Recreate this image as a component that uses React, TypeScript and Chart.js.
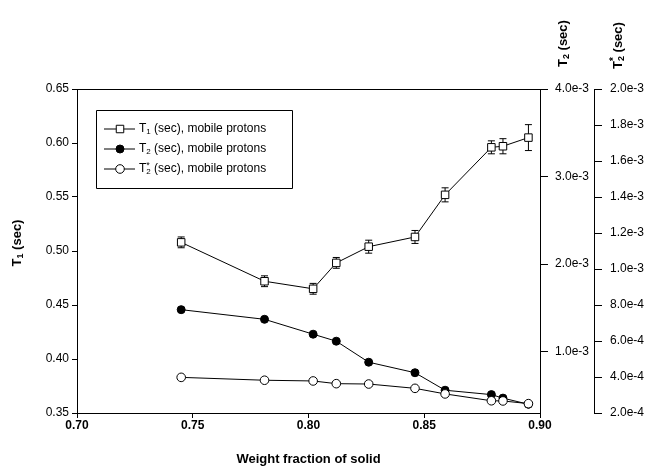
import React, { useEffect, useRef } from 'react';
import { Chart, registerables } from 'chart.js';

Chart.register(...registerables);

// ---- data ----
const weightFraction = [0.745, 0.781, 0.802, 0.812, 0.826, 0.846, 0.859, 0.879, 0.884, 0.895];
const t1 = [0.508, 0.472, 0.465, 0.489, 0.504, 0.513, 0.552, 0.596, 0.597, 0.605];
const t1Err = [0.005, 0.005, 0.005, 0.005, 0.006, 0.006, 0.0065, 0.006, 0.007, 0.012];
const t2 = [1.48e-3, 1.37e-3, 1.2e-3, 1.12e-3, 0.88e-3, 0.76e-3, 0.56e-3, 0.51e-3, 0.47e-3, 0.4e-3];
const t2Star = [3.98e-4, 3.82e-4, 3.78e-4, 3.63e-4, 3.61e-4, 3.37e-4, 3.06e-4, 2.68e-4, 2.67e-4, 2.52e-4];

const xTicks = [0.7, 0.75, 0.8, 0.85, 0.9];
const t1Ticks = [0.35, 0.4, 0.45, 0.5, 0.55, 0.6, 0.65];
const t2Ticks = [1e-3, 2e-3, 3e-3, 4e-3];
const t2StarTicks = [2e-4, 4e-4, 6e-4, 8e-4, 1e-3, 1.2e-3, 1.4e-3, 1.6e-3, 1.8e-3, 2e-3];

const legendLabels = [' (sec), mobile protons', ' (sec), mobile protons', ' (sec), mobile protons'];

const FONT = '"Liberation Sans", Arial, Helvetica, sans-serif';

type Seg = { t: string; size: number; dy?: number; bold?: boolean; overlay?: boolean };

function segFont(s: Seg) {
  return `${s.bold ? 'bold ' : ''}${s.size}px ${FONT}`;
}

function measureRich(ctx: CanvasRenderingContext2D, segs: Seg[]) {
  let w = 0;
  let prevW = 0;
  for (const s of segs) {
    ctx.font = segFont(s);
    const sw = ctx.measureText(s.t).width;
    if (s.overlay) {
      w += Math.max(0, sw - prevW);
      prevW = Math.max(prevW, sw);
    } else {
      w += sw;
      prevW = sw;
    }
  }
  return w;
}

function drawRich(ctx: CanvasRenderingContext2D, segs: Seg[], x: number, y: number) {
  let cx = x;
  let lastStart = x;
  let prevW = 0;
  for (const s of segs) {
    ctx.font = segFont(s);
    const sw = ctx.measureText(s.t).width;
    if (s.overlay) {
      ctx.fillText(s.t, lastStart, y + (s.dy || 0));
      cx = lastStart + Math.max(prevW, sw);
      prevW = Math.max(prevW, sw);
    } else {
      ctx.fillText(s.t, cx, y + (s.dy || 0));
      lastStart = cx;
      cx += sw;
      prevW = sw;
    }
  }
}

function drawMarker(ctx: CanvasRenderingContext2D, kind: string, x: number, y: number) {
  ctx.save();
  ctx.lineWidth = 1;
  ctx.strokeStyle = '#000';
  if (kind === 'square') {
    ctx.fillStyle = '#fff';
    ctx.beginPath();
    ctx.rect(x - 3.75, y - 3.75, 7.5, 7.5);
    ctx.fill();
    ctx.stroke();
  } else if (kind === 'filled') {
    ctx.fillStyle = '#000';
    ctx.beginPath();
    ctx.arc(x, y, 4, 0, Math.PI * 2);
    ctx.fill();
    ctx.stroke();
  } else {
    ctx.fillStyle = '#fff';
    ctx.beginPath();
    ctx.arc(x, y, 4.3, 0, Math.PI * 2);
    ctx.fill();
    ctx.stroke();
  }
  ctx.restore();
}

const decorPlugin = {
  id: 'decor',
  beforeDatasetsDraw(chart: any) {
    const ctx: CanvasRenderingContext2D = chart.ctx;
    const xs = chart.scales.x;
    const ys = chart.scales.y;
    ctx.save();
    ctx.strokeStyle = '#000';
    ctx.lineWidth = 1;
    weightFraction.forEach((wf, i) => {
      const px = xs.getPixelForValue(wf);
      const top = ys.getPixelForValue(t1[i] + t1Err[i]);
      const bot = ys.getPixelForValue(t1[i] - t1Err[i]);
      ctx.beginPath();
      ctx.moveTo(px, top);
      ctx.lineTo(px, bot);
      ctx.moveTo(px - 3.5, top);
      ctx.lineTo(px + 3.5, top);
      ctx.moveTo(px - 3.5, bot);
      ctx.lineTo(px + 3.5, bot);
      ctx.stroke();
    });
    ctx.restore();
  },
  afterDraw(chart: any) {
    const ctx: CanvasRenderingContext2D = chart.ctx;
    const area = chart.chartArea;
    ctx.save();
    ctx.strokeStyle = '#000';
    ctx.lineWidth = 1;
    // top frame line
    ctx.beginPath();
    ctx.moveTo(area.left, area.top + 0.5);
    ctx.lineTo(area.right, area.top + 0.5);
    ctx.stroke();

    ctx.fillStyle = '#000';
    ctx.textBaseline = 'middle';
    ctx.textAlign = 'left';

    // x title
    ctx.font = `bold 13px ${FONT}`;
    ctx.textAlign = 'center';
    ctx.fillText('Weight fraction of solid', (area.left + area.right) / 2, 459);
    ctx.textAlign = 'left';

    // left title T1 (sec)
    const t1Title: Seg[] = [
      { t: 'T', size: 13, bold: true },
      { t: '1', size: 9, bold: true, dy: 4 },
      { t: ' (sec)', size: 13, bold: true },
    ];
    const w1 = measureRich(ctx, t1Title);
    ctx.save();
    ctx.translate(17, (area.top + area.bottom) / 2 - 8 + w1 / 2);
    ctx.rotate(-Math.PI / 2);
    drawRich(ctx, t1Title, 0, 0);
    ctx.restore();

    // right title T2 (sec)
    const t2Title: Seg[] = [
      { t: 'T', size: 13, bold: true },
      { t: '2', size: 9, bold: true, dy: 4 },
      { t: ' (sec)', size: 13, bold: true },
    ];
    ctx.save();
    ctx.translate(563, 67);
    ctx.rotate(-Math.PI / 2);
    drawRich(ctx, t2Title, 0, 0);
    ctx.restore();

    // far right title T2* (sec)
    const t2sTitle: Seg[] = [
      { t: 'T', size: 13, bold: true },
      { t: '2', size: 9, bold: true, dy: 4 },
      { t: '*', size: 10, bold: true, dy: -4, overlay: true },
      { t: ' (sec)', size: 13, bold: true },
    ];
    ctx.save();
    ctx.translate(618, 69);
    ctx.rotate(-Math.PI / 2);
    drawRich(ctx, t2sTitle, 0, 0);
    ctx.restore();

    // legend
    const bx = 96, by = 110, bw = 196, bh = 78;
    ctx.beginPath();
    ctx.rect(bx + 0.5, by + 0.5, bw, bh);
    ctx.stroke();
    const kinds = ['square', 'filled', 'open'];
    const subs = ['1', '2', '2'];
    kinds.forEach((k, i) => {
      const ry = by + 19 + i * 20;
      ctx.beginPath();
      ctx.moveTo(104, ry);
      ctx.lineTo(135, ry);
      ctx.stroke();
      drawMarker(ctx, k, 120, ry);
      const segs: Seg[] = [
        { t: 'T', size: 12 },
        { t: subs[i], size: 8, dy: 3 },
      ];
      if (i === 2) segs.push({ t: '*', size: 9, dy: -3, overlay: true });
      segs.push({ t: legendLabels[i], size: 12 });
      ctx.fillStyle = '#000';
      drawRich(ctx, segs, 139, ry);
    });
    ctx.restore();
  },
};

export default function App() {
  const ref = useRef<HTMLCanvasElement | null>(null);

  useEffect(() => {
    if (!ref.current) return;
    const pts = (ys: number[]) => weightFraction.map((x, i) => ({ x, y: ys[i] }));
    const tickFont = { family: FONT, size: 12 };
    const chart = new Chart(ref.current, {
      type: 'line',
      data: {
        datasets: [
          {
            label: 'T1',
            data: pts(t1),
            yAxisID: 'y',
            borderColor: '#000',
            borderWidth: 1,
            pointStyle: 'rect',
            pointRadius: 5.3,
            pointBackgroundColor: '#fff',
            pointBorderColor: '#000',
            pointBorderWidth: 1,
            order: 0,
          },
          {
            label: 'T2',
            data: pts(t2),
            yAxisID: 'y2',
            borderColor: '#000',
            borderWidth: 1,
            pointStyle: 'circle',
            pointRadius: 4,
            pointBackgroundColor: '#000',
            pointBorderColor: '#000',
            pointBorderWidth: 1,
            order: 2,
          },
          {
            label: 'T2*',
            data: pts(t2Star),
            yAxisID: 'y3',
            borderColor: '#000',
            borderWidth: 1,
            pointStyle: 'circle',
            pointRadius: 4.3,
            pointBackgroundColor: '#fff',
            pointBorderColor: '#000',
            pointBorderWidth: 1,
            order: 1,
          },
        ],
      },
      options: {
        responsive: false,
        animation: false,
        events: [],
        layout: { padding: { top: 89, left: 0, right: 0, bottom: 0 } },
        plugins: { legend: { display: false }, tooltip: { enabled: false } },
        scales: {
          x: {
            type: 'linear',
            min: 0.7,
            max: 0.9,
            afterBuildTicks: (s: any) => { s.ticks = xTicks.map((v) => ({ value: v })); },
            afterFit: (s: any) => { s.height = 53; },
            grid: { drawOnChartArea: false, drawTicks: true, tickLength: 5, color: '#000' },
            border: { color: '#000', width: 1 },
            ticks: {
              color: '#000',
              font: { ...tickFont, weight: 'bold' },
              padding: 0,
              maxRotation: 0,
              autoSkip: false,
              callback: (v: any) => Number(v).toFixed(2),
            },
          },
          y: {
            type: 'linear',
            position: 'left',
            min: 0.35,
            max: 0.65,
            afterBuildTicks: (s: any) => { s.ticks = t1Ticks.map((v) => ({ value: v })); },
            afterFit: (s: any) => { s.width = 77; },
            grid: { drawOnChartArea: false, drawTicks: true, tickLength: 5, color: '#000' },
            border: { color: '#000', width: 1 },
            ticks: {
              color: '#000',
              font: tickFont,
              padding: 3,
              autoSkip: false,
              callback: (v: any) => Number(v).toFixed(2),
            },
          },
          y2: {
            type: 'linear',
            position: 'right',
            min: 0.0003,
            max: 0.004,
            afterBuildTicks: (s: any) => { s.ticks = t2Ticks.map((v) => ({ value: v })); },
            afterFit: (s: any) => { s.width = 54; },
            grid: { drawOnChartArea: false, drawTicks: true, tickLength: 8, color: '#000' },
            border: { color: '#000', width: 1 },
            ticks: {
              color: '#000',
              font: tickFont,
              padding: 7,
              autoSkip: false,
              callback: (v: any) => Number(v).toExponential(1),
            },
          },
          y3: {
            type: 'linear',
            position: 'right',
            min: 0.0002,
            max: 0.002,
            afterBuildTicks: (s: any) => { s.ticks = t2StarTicks.map((v) => ({ value: v })); },
            afterFit: (s: any) => { s.width = 53; },
            grid: { drawOnChartArea: false, drawTicks: true, tickLength: 8, color: '#000' },
            border: { color: '#000', width: 1 },
            ticks: {
              color: '#000',
              font: tickFont,
              padding: 8,
              autoSkip: false,
              callback: (v: any) => Number(v).toExponential(1),
            },
          },
        },
      },
      plugins: [decorPlugin],
    } as any);
    return () => chart.destroy();
  }, []);

  return (
    <div style={{ position: 'fixed', left: 0, top: 0, width: 647, height: 466, background: '#fff' }}>
      <canvas ref={ref} width={647} height={466} style={{ display: 'block' }} />
    </div>
  );
}
